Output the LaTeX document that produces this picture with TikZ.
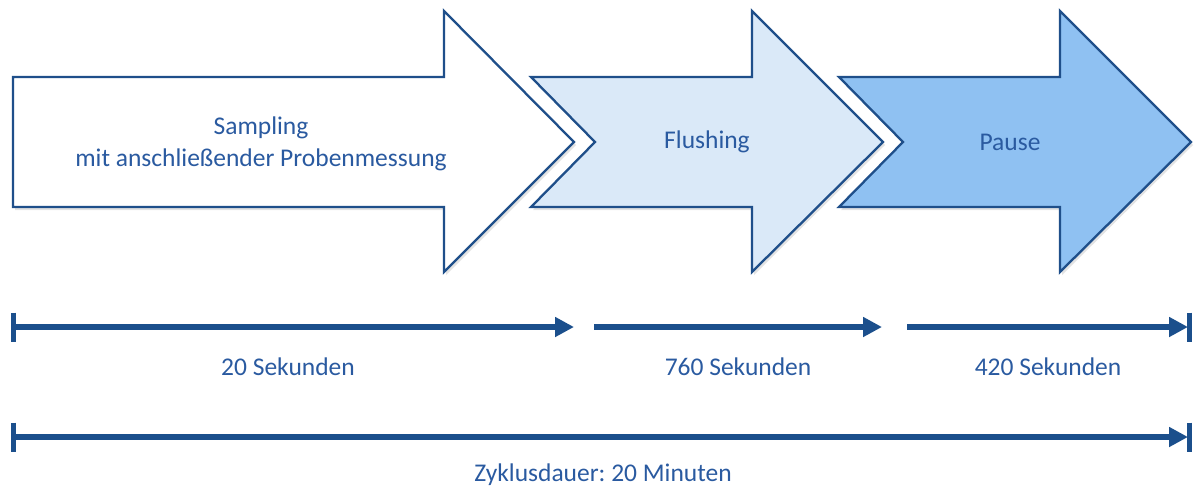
\documentclass[tikz,border=0pt]{standalone}
\usepackage{fontspec}
\setmainfont{Carlito}
\frenchspacing
\usetikzlibrary{arrows.meta,shadows}
\definecolor{edge}{HTML}{1F4F8A}
\definecolor{txt}{HTML}{2A5AA0}
\definecolor{fillB}{HTML}{DAE9F8}
\definecolor{fillC}{HTML}{8FC1F2}
\definecolor{tline}{HTML}{1B4F8C}
\tikzset{
  phase/.style={draw=edge, line width=2.3pt, line join=miter,
    drop shadow={shadow xshift=2pt, shadow yshift=-3pt, opacity=0.22, fill=gray}},
  lbl/.style={text=txt, font=\fontsize{25.5}{32}\selectfont, align=center, inner sep=0pt},
  tl/.style={draw=tline, line width=6pt, -{Triangle[length=19pt,width=19pt]}},
  endbar/.style={draw=tline, line width=5pt}
}
\begin{document}
\begin{tikzpicture}[x=1pt,y=-1pt]
\useasboundingbox (0,0) rectangle (1195,491);
% phase arrows
\path[phase, fill=white] (13,77) -- (444,77) -- (444,11) -- (574,142) -- (444,272) -- (444,207) -- (13,207) -- cycle;
\path[phase, fill=fillB] (531,77) -- (752,77) -- (752,11) -- (883,142) -- (752,272) -- (752,207) -- (531,207) -- (595,142) -- cycle;
\path[phase, fill=fillC] (839,77) -- (1060,77) -- (1060,11) -- (1191,142) -- (1060,272) -- (1060,207) -- (839,207) -- (903,142) -- cycle;
\node[lbl] (sampling) at (261,144) {Sampling\\mit anschließender Probenmessung};
\node[lbl] (flushing) at (707,142) {Flushing};
\node[lbl] (pause) at (1010,142) {Pause};
% timelines
\coordinate (r1a) at (13,327);
\coordinate (r1b) at (574,327);
\coordinate (r1c) at (594,327);
\coordinate (r1d) at (882,327);
\coordinate (r1e) at (907,327);
\coordinate (r1f) at (1188,327);
\coordinate (r1g) at (1189.5,327);
\coordinate (r2a) at (13,437);
\coordinate (r2b) at (1188,437);
\coordinate (r2c) at (1189.5,437);
\draw[tl] (r1a) -- (r1b);
\draw[tl] (r1c) -- (r1d);
\draw[tl] (r1e) -- (r1f);
\draw[tl] (r2a) -- (r2b);
\draw[endbar] (r1a) ++(0,-14.5) -- ++(0,29);
\draw[endbar] (r1g) ++(0,-14.5) -- ++(0,29);
\draw[endbar] (r2a) ++(0,-14.5) -- ++(0,29);
\draw[endbar] (r2c) ++(0,-14.5) -- ++(0,29);
\node[lbl] (t1) at (288,367) {20 Sekunden};
\node[lbl] (t2) at (738,367) {760 Sekunden};
\node[lbl] (t3) at (1048,367) {420 Sekunden};
\node[lbl] (t4) at (603,475) {Zyklusdauer: 20 Minuten};
\end{tikzpicture}
\end{document}
